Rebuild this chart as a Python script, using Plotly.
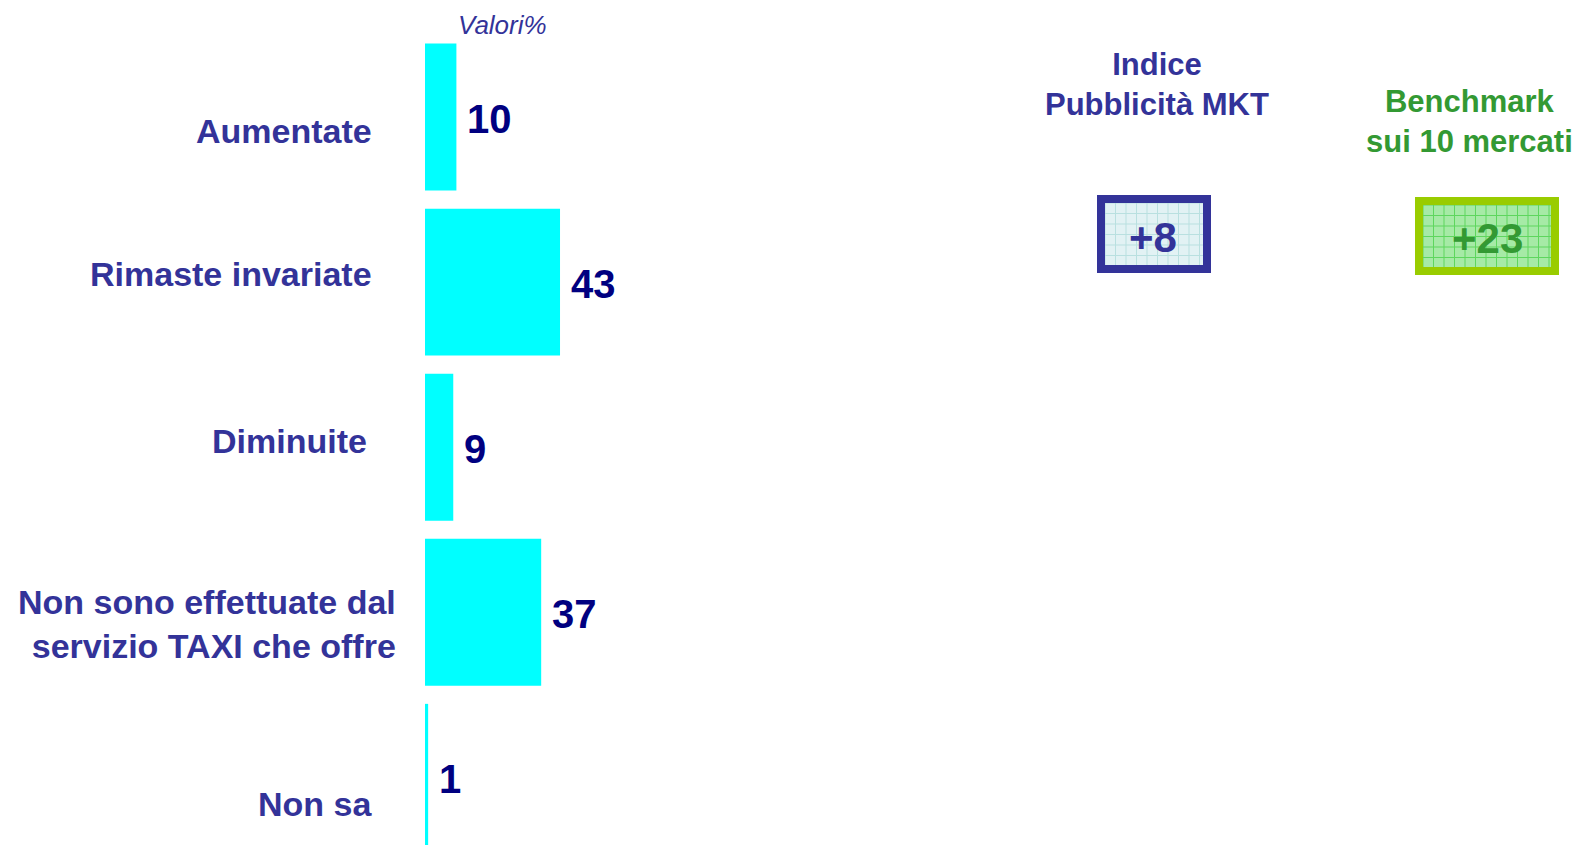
import plotly.graph_objects as go

categories = ["Aumentate", "Rimaste invariate", "Diminuite",
              "Non sono effettuate dal<br>servizio TAXI che offre", "Non sa"]
values = [10, 43, 9, 37, 1]
index_title = "Indice<br>Pubblicità MKT"
index_value = "+8"
bench_title = "Benchmark<br>sui 10 mercati"
bench_value = "+23"

W, H = 1582, 845
NAVY = "#333399"
GREEN = "#339933"
FONT = "Liberation Sans, Arial, sans-serif"
NARROW = "Liberation Sans Narrow, Arial Narrow, Liberation Sans, sans-serif"

def px(x):
    return x / W

def py(y):
    return 1 - y / H

ypos = list(range(len(categories)))

fig = go.Figure()
fig.add_trace(go.Bar(
    x=values, y=ypos, orientation="h",
    marker=dict(color="#00FFFF", line=dict(width=0)),
    width=0.89, hoverinfo="skip", showlegend=False,
))

annotations = []
# value labels
for v, yy in zip(values, ypos):
    annotations.append(dict(
        x=v, y=yy, xref="x", yref="y", text=f"<b>{v}</b>",
        showarrow=False, xanchor="left", yanchor="middle", xshift=9, yshift=-2,
        font=dict(family=NARROW, size=40, color="#000080"),
    ))

# category labels (positions tuned to the reference)
label_pos = [(374, 131), (374, 274), (369, 441), (398, 624), (374, 804)]
for cat, (lx, ly) in zip(categories, label_pos):
    annotations.append(dict(
        x=px(lx), y=py(ly), xref="paper", yref="paper", text=f"<b>{cat}</b>",
        showarrow=False, xanchor="right", yanchor="middle", align="right",
        font=dict(family=FONT, size=34, color=NAVY),
    ))

annotations.append(dict(
    x=px(502), y=py(25), xref="paper", yref="paper", text="<i>Valori%</i>",
    showarrow=False, xanchor="center", yanchor="middle",
    font=dict(family=FONT, size=26, color=NAVY),
))
annotations.append(dict(
    x=px(1157), y=py(85), xref="paper", yref="paper", text=f"<b>{index_title}</b>",
    showarrow=False, xanchor="center", yanchor="middle", align="center",
    font=dict(family=FONT, size=31, color=NAVY),
))
annotations.append(dict(
    x=px(1469), y=py(122), xref="paper", yref="paper", text=f"<b>{bench_title}</b>",
    showarrow=False, xanchor="center", yanchor="middle", align="center",
    font=dict(family=FONT, size=31, color=GREEN),
))
annotations.append(dict(
    x=px(1153), y=py(237), xref="paper", yref="paper", text=f"<b>{index_value}</b>",
    showarrow=False, xanchor="center", yanchor="middle",
    font=dict(family=FONT, size=42, color=NAVY),
))
annotations.append(dict(
    x=px(1487), y=py(239), xref="paper", yref="paper", text=f"<b>{bench_value}</b>",
    showarrow=False, xanchor="center", yanchor="middle",
    font=dict(family=FONT, size=42, color=GREEN),
))

shapes = []

def box(x0, y0, x1, y1, fill, grid, border):
    shapes.append(dict(type="rect", xref="paper", yref="paper",
                       x0=px(x0), x1=px(x1), y0=py(y1), y1=py(y0),
                       fillcolor=fill, line=dict(width=0), layer="below"))
    gx = x0 + 4
    while gx < x1:
        shapes.append(dict(type="line", xref="paper", yref="paper",
                           x0=px(gx), x1=px(gx), y0=py(y1), y1=py(y0),
                           line=dict(color=grid, width=1), layer="below"))
        gx += 10.5
    gy = y0 + 4
    while gy < y1:
        shapes.append(dict(type="line", xref="paper", yref="paper",
                           x0=px(x0), x1=px(x1), y0=py(gy), y1=py(gy),
                           line=dict(color=grid, width=1), layer="below"))
        gy += 10.5
    shapes.append(dict(type="rect", xref="paper", yref="paper",
                       x0=px(x0), x1=px(x1), y0=py(y1), y1=py(y0),
                       fillcolor="rgba(0,0,0,0)", line=dict(color=border, width=8)))

box(1101, 199, 1207, 269, "#e2f2f4", "#b9e0e0", NAVY)
box(1419, 201, 1555, 271, "#a6eaa6", "#5ed65e", "#99cc00")

fig.update_layout(
    width=W, height=H,
    margin=dict(l=0, r=0, t=0, b=0),
    paper_bgcolor="white", plot_bgcolor="white",
    xaxis=dict(domain=[px(425), px(425 + 314)], range=[0, 100],
               showgrid=False, zeroline=False, showticklabels=False, showline=False),
    yaxis=dict(domain=[0, py(34.5)], range=[4.41, -0.5],
               showgrid=False, zeroline=False, showticklabels=False, showline=False),
    annotations=annotations, shapes=shapes,
)

fig.write_html("out.html", config={"displayModeBar": False},
               post_script="document.body.style.margin='0';document.body.style.overflow='hidden';")
